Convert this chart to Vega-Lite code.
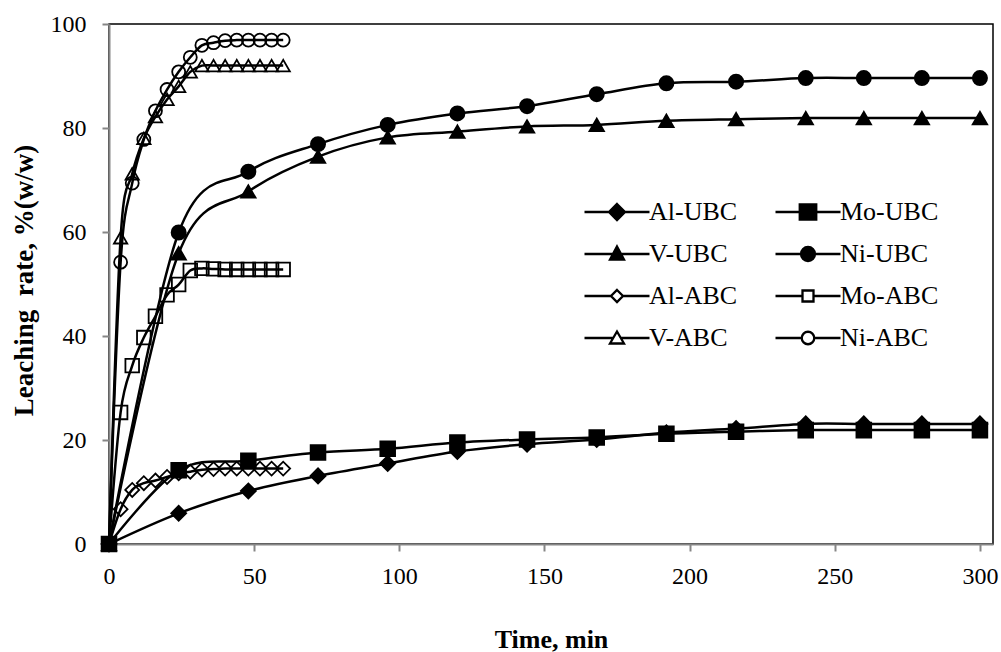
{
  "$schema": "https://vega.github.io/schema/vega-lite/v6.json",
  "width": 884,
  "height": 520,
  "autosize": {"type": "none"},
  "padding": {"left": 109, "top": 24, "right": 8, "bottom": 108},
  "background": "white",
  "config": {
    "view": {"stroke": "black", "strokeWidth": 1.5},
    "axis": {
      "domainColor": "#868686", "domainWidth": 2, "tickColor": "#868686", "tickWidth": 2, "tickSize": 7,
      "labelFont": "Liberation Serif", "labelFontSize": 24, "labelColor": "black",
      "titleFont": "Liberation Serif", "titleFontWeight": "bold", "titleFontSize": 26, "titleColor": "black",
      "grid": false
    },
    "legend": {"labelFont": "Liberation Serif", "labelFontSize": 26, "labelColor": "black", "symbolStrokeWidth": 2.3}
  },
  "data": {"values": [
    {"t":0,"v":0,"s":"Al-UBC"},{"t":24,"v":5.9,"s":"Al-UBC"},{"t":48,"v":10.2,"s":"Al-UBC"},{"t":72,"v":13.1,"s":"Al-UBC"},{"t":96,"v":15.5,"s":"Al-UBC"},{"t":120,"v":17.8,"s":"Al-UBC"},{"t":144,"v":19.2,"s":"Al-UBC"},{"t":168,"v":20.1,"s":"Al-UBC"},{"t":192,"v":21.4,"s":"Al-UBC"},{"t":216,"v":22.2,"s":"Al-UBC"},{"t":240,"v":23.1,"s":"Al-UBC"},{"t":260,"v":23.1,"s":"Al-UBC"},{"t":280,"v":23.1,"s":"Al-UBC"},{"t":300,"v":23.1,"s":"Al-UBC"},
    {"t":0,"v":0,"s":"Mo-UBC"},{"t":24,"v":14.2,"s":"Mo-UBC"},{"t":48,"v":16.0,"s":"Mo-UBC"},{"t":72,"v":17.6,"s":"Mo-UBC"},{"t":96,"v":18.3,"s":"Mo-UBC"},{"t":120,"v":19.5,"s":"Mo-UBC"},{"t":144,"v":20.1,"s":"Mo-UBC"},{"t":168,"v":20.5,"s":"Mo-UBC"},{"t":192,"v":21.2,"s":"Mo-UBC"},{"t":216,"v":21.6,"s":"Mo-UBC"},{"t":240,"v":21.9,"s":"Mo-UBC"},{"t":260,"v":21.9,"s":"Mo-UBC"},{"t":280,"v":21.9,"s":"Mo-UBC"},{"t":300,"v":21.9,"s":"Mo-UBC"},
    {"t":0,"v":0,"s":"V-UBC"},{"t":24,"v":55.9,"s":"V-UBC"},{"t":48,"v":67.8,"s":"V-UBC"},{"t":72,"v":74.5,"s":"V-UBC"},{"t":96,"v":78.2,"s":"V-UBC"},{"t":120,"v":79.3,"s":"V-UBC"},{"t":144,"v":80.3,"s":"V-UBC"},{"t":168,"v":80.6,"s":"V-UBC"},{"t":192,"v":81.4,"s":"V-UBC"},{"t":216,"v":81.7,"s":"V-UBC"},{"t":240,"v":81.9,"s":"V-UBC"},{"t":260,"v":81.9,"s":"V-UBC"},{"t":280,"v":81.9,"s":"V-UBC"},{"t":300,"v":81.9,"s":"V-UBC"},
    {"t":0,"v":0,"s":"Ni-UBC"},{"t":24,"v":59.9,"s":"Ni-UBC"},{"t":48,"v":71.6,"s":"Ni-UBC"},{"t":72,"v":76.9,"s":"Ni-UBC"},{"t":96,"v":80.6,"s":"Ni-UBC"},{"t":120,"v":82.8,"s":"Ni-UBC"},{"t":144,"v":84.2,"s":"Ni-UBC"},{"t":168,"v":86.5,"s":"Ni-UBC"},{"t":192,"v":88.6,"s":"Ni-UBC"},{"t":216,"v":88.9,"s":"Ni-UBC"},{"t":240,"v":89.6,"s":"Ni-UBC"},{"t":260,"v":89.6,"s":"Ni-UBC"},{"t":280,"v":89.6,"s":"Ni-UBC"},{"t":300,"v":89.6,"s":"Ni-UBC"},
    {"t":0,"v":0,"s":"Al-ABC"},{"t":4,"v":6.7,"s":"Al-ABC"},{"t":8,"v":10.4,"s":"Al-ABC"},{"t":12,"v":11.7,"s":"Al-ABC"},{"t":16,"v":12.2,"s":"Al-ABC"},{"t":20,"v":12.9,"s":"Al-ABC"},{"t":24,"v":13.6,"s":"Al-ABC"},{"t":28,"v":13.9,"s":"Al-ABC"},{"t":32,"v":14.3,"s":"Al-ABC"},{"t":36,"v":14.4,"s":"Al-ABC"},{"t":40,"v":14.5,"s":"Al-ABC"},{"t":44,"v":14.5,"s":"Al-ABC"},{"t":48,"v":14.5,"s":"Al-ABC"},{"t":52,"v":14.5,"s":"Al-ABC"},{"t":56,"v":14.5,"s":"Al-ABC"},{"t":60,"v":14.5,"s":"Al-ABC"},
    {"t":0,"v":0,"s":"Mo-ABC"},{"t":4,"v":25.3,"s":"Mo-ABC"},{"t":8,"v":34.3,"s":"Mo-ABC"},{"t":12,"v":39.7,"s":"Mo-ABC"},{"t":16,"v":43.8,"s":"Mo-ABC"},{"t":20,"v":47.9,"s":"Mo-ABC"},{"t":24,"v":49.9,"s":"Mo-ABC"},{"t":28,"v":52.6,"s":"Mo-ABC"},{"t":32,"v":53.0,"s":"Mo-ABC"},{"t":36,"v":52.9,"s":"Mo-ABC"},{"t":40,"v":52.8,"s":"Mo-ABC"},{"t":44,"v":52.8,"s":"Mo-ABC"},{"t":48,"v":52.8,"s":"Mo-ABC"},{"t":52,"v":52.8,"s":"Mo-ABC"},{"t":56,"v":52.8,"s":"Mo-ABC"},{"t":60,"v":52.8,"s":"Mo-ABC"},
    {"t":0,"v":0,"s":"V-ABC"},{"t":4,"v":58.9,"s":"V-ABC"},{"t":8,"v":71.2,"s":"V-ABC"},{"t":12,"v":78.0,"s":"V-ABC"},{"t":16,"v":82.2,"s":"V-ABC"},{"t":20,"v":85.5,"s":"V-ABC"},{"t":24,"v":88.0,"s":"V-ABC"},{"t":28,"v":90.8,"s":"V-ABC"},{"t":32,"v":92.0,"s":"V-ABC"},{"t":36,"v":92.0,"s":"V-ABC"},{"t":40,"v":92.0,"s":"V-ABC"},{"t":44,"v":92.0,"s":"V-ABC"},{"t":48,"v":92.0,"s":"V-ABC"},{"t":52,"v":92.0,"s":"V-ABC"},{"t":56,"v":92.0,"s":"V-ABC"},{"t":60,"v":92.0,"s":"V-ABC"},
    {"t":0,"v":0,"s":"Ni-ABC"},{"t":4,"v":54.2,"s":"Ni-ABC"},{"t":8,"v":69.4,"s":"Ni-ABC"},{"t":12,"v":77.8,"s":"Ni-ABC"},{"t":16,"v":83.3,"s":"Ni-ABC"},{"t":20,"v":87.4,"s":"Ni-ABC"},{"t":24,"v":90.8,"s":"Ni-ABC"},{"t":28,"v":93.6,"s":"Ni-ABC"},{"t":32,"v":95.9,"s":"Ni-ABC"},{"t":36,"v":96.4,"s":"Ni-ABC"},{"t":40,"v":96.8,"s":"Ni-ABC"},{"t":44,"v":96.9,"s":"Ni-ABC"},{"t":48,"v":96.9,"s":"Ni-ABC"},{"t":52,"v":96.9,"s":"Ni-ABC"},{"t":56,"v":96.9,"s":"Ni-ABC"},{"t":60,"v":96.9,"s":"Ni-ABC"}
  ]},
  "encoding": {
    "x": {"field": "t", "type": "quantitative", "scale": {"domain": [0, 304.5], "nice": false, "zero": false},
      "axis": {"values": [0, 50, 100, 150, 200, 250, 300], "title": "Time, min", "labelPadding": 13, "titlePadding": 38, "labelFlush": false}},
    "y": {"field": "v", "type": "quantitative", "scale": {"domain": [0, 100], "nice": false},
      "axis": {"values": [0, 20, 40, 60, 80, 100], "title": "Leaching\u00a0 rate, %(w/w)", "labelPadding": 16, "titlePadding": 12, "titleY": 256, "titleFontSize": 27, "labelFlush": false}}
  },
  "layer": [
    {
      "mark": {"type": "line", "interpolate": "cardinal", "stroke": "black", "strokeWidth": 2.5},
      "encoding": {"detail": {"field": "s"}}
    },
    {
      "mark": {"type": "point", "filled": true, "stroke": "black", "strokeWidth": 1.8, "opacity": 1},
      "encoding": {
        "shape": {"field": "s", "scale": {"domain": ["Al-UBC","Mo-UBC","V-UBC","Ni-UBC","Al-ABC","Mo-ABC","V-ABC","Ni-ABC"], "range": ["diamond","square","triangle-up","circle","diamond","square","triangle-up","circle"]}, "legend": null},
        "fill": {"field": "s", "scale": {"domain": ["Al-UBC","Mo-UBC","V-UBC","Ni-UBC","Al-ABC","Mo-ABC","V-ABC","Ni-ABC"], "range": ["black","black","black","black","transparent","transparent","transparent","transparent"]}, "legend": null},
        "size": {"field": "s", "type": "nominal", "scale": {"domain": ["Al-UBC","Mo-UBC","V-UBC","Ni-UBC","Al-ABC","Mo-ABC","V-ABC","Ni-ABC"], "range": [225, 169, 150, 169, 121, 81, 121, 144]}, "legend": null}
      }
    },
    {
      "transform": [{"filter": "datum.t < 0"}],
      "mark": {"type": "point", "filled": false, "strokeWidth": 2.3, "opacity": 1, "size": 64},
      "encoding": {
        "shape": {"field": "s", "title": null,
          "scale": {"domain": ["Al-UBC","V-UBC","Al-ABC","V-ABC","Mo-UBC","Ni-UBC","Mo-ABC","Ni-ABC"],
            "range": [
              "M-6.5,0H6.5M0,-1.6L1.6,0L0,1.6L-1.6,0Z",
              "M-6.5,0H6.5M0,-1.5L1.4,1.1L-1.4,1.1Z",
              "M-6.5,0H-1.2M1.2,0H6.5M0,-1.2L1.2,0L0,1.2L-1.2,0Z",
              "M-6.5,0H-0.8M0.8,0H6.5M0,-1.3L1.4,1.1L-1.4,1.1Z",
              "M-6.5,0H6.5M-1.65,-1.5H1.65V1.5H-1.65Z",
              "M-6.5,0H6.5M-1.4,0A1.4,1.4,0,1,0,1.4,0A1.4,1.4,0,1,0,-1.4,0Z",
              "M-6.5,0H-1.1M1.1,0H6.5M-1.1,-1.1H1.1V1.1H-1.1Z",
              "M-6.5,0H-1.25M1.25,0H6.5M-1.25,0A1.25,1.25,0,1,0,1.25,0A1.25,1.25,0,1,0,-1.25,0Z"
            ]},
          "legend": {"orient": "none", "legendX": 495, "legendY": 175, "columns": 2, "columnPadding": 32, "rowPadding": 16, "labelOffset": 19, "padding": 0}
        },
        "fill": {"field": "s", "title": null,
          "scale": {"domain": ["Al-UBC","V-UBC","Al-ABC","V-ABC","Mo-UBC","Ni-UBC","Mo-ABC","Ni-ABC"], "range": ["black","black","white","white","black","black","white","white"]}},
        "stroke": {"field": "s", "title": null,
          "scale": {"domain": ["Al-UBC","V-UBC","Al-ABC","V-ABC","Mo-UBC","Ni-UBC","Mo-ABC","Ni-ABC"], "range": ["black","black","black","black","black","black","black","black"]}}
      }
    }
  ],
  "resolve": {"scale": {"shape": "independent", "fill": "independent", "size": "independent", "stroke": "independent"}, "legend": {"shape": "independent", "fill": "independent", "stroke": "independent"}}
}
